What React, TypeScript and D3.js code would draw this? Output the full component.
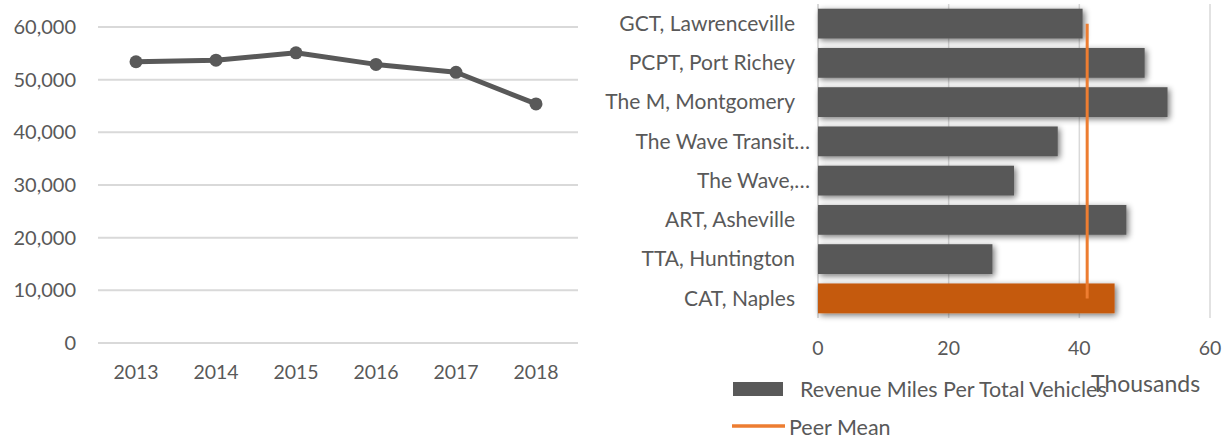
import React from "react";
import * as d3 from "d3";

const years = ["2013", "2014", "2015", "2016", "2017", "2018"];
const yearValues = [53400, 53700, 55100, 52900, 51400, 45400];
const leftTicks = [0, 10000, 20000, 30000, 40000, 50000, 60000];

const agencies = [
  "GCT, Lawrenceville",
  "PCPT, Port Richey",
  "The M, Montgomery",
  "The Wave Transit…",
  "The Wave,…",
  "ART, Asheville",
  "TTA, Huntington",
  "CAT, Naples",
];
const agencyValues = [40.5, 50.0, 53.5, 36.7, 30.0, 47.2, 26.7, 45.4];
const highlightAgency = "CAT, Naples";
const peerMean = 41.2;
const rightTicks = [0, 20, 40, 60];

const W = 1228;
const H = 437;
const FONT = "Lato, 'Open Sans', sans-serif";
const TXT = "#595959";
const GRID = "#D9D9D9";
const BAR = "#595959";
const HL = "#C55A11";
const MEAN = "#ED7D31";

export default function App() {
  // left line chart
  const xl = d3.scaleBand<string>().domain(years).range([96, 576]);
  const yl = d3.scaleLinear().domain([0, 60000]).range([343, 27]);
  const fmt = d3.format(",");
  const line = d3
    .line<number>()
    .x((_, i) => (xl(years[i]) as number) + xl.bandwidth() / 2)
    .y((d) => yl(d));

  // right bar chart
  const xr = d3.scaleLinear().domain([0, 60]).range([818, 1210]);
  const yr = d3.scaleBand<string>().domain(agencies).range([4, 318]).paddingInner(0.24).paddingOuter(0.12);
  const firstC = (yr(agencies[0]) as number) + yr.bandwidth() / 2;
  const lastC = (yr(agencies[agencies.length - 1]) as number) + yr.bandwidth() / 2;

  return (
    <svg
      width={W}
      height={H}
      style={{ position: "absolute", left: 0, top: 0, background: "#fff" }}
      fontFamily={FONT}
    >
      <defs>
        <filter id="shadow" x="-10%" y="-50%" width="130%" height="220%">
          <feGaussianBlur in="SourceAlpha" stdDeviation="3" />
          <feOffset dx="2" dy="2" result="ob" />
          <feComponentTransfer>
            <feFuncA type="linear" slope="0.55" />
          </feComponentTransfer>
          <feMerge>
            <feMergeNode />
            <feMergeNode in="SourceGraphic" />
          </feMerge>
        </filter>
      </defs>

      {/* Left chart */}
      {leftTicks.map((t) => (
        <g key={t}>
          <line x1={98} x2={578} y1={yl(t)} y2={yl(t)} stroke={GRID} strokeWidth={2} />
          <text x={76} y={yl(t)} dy="0.35em" textAnchor="end" fontSize={20} fill={TXT}>
            {fmt(t)}
          </text>
        </g>
      ))}
      {years.map((y) => (
        <text
          key={y}
          x={(xl(y) as number) + xl.bandwidth() / 2}
          y={372.5}
          dy="0.35em"
          textAnchor="middle"
          fontSize={19.5}
          fill={TXT}
        >
          {y}
        </text>
      ))}
      <path d={line(yearValues) || ""} fill="none" stroke={BAR} strokeWidth={5} strokeLinejoin="round" />
      {yearValues.map((v, i) => (
        <circle
          key={i}
          cx={(xl(years[i]) as number) + xl.bandwidth() / 2}
          cy={yl(v)}
          r={6.5}
          fill={BAR}
        />
      ))}

      {/* Right chart */}
      {rightTicks.map((t) => (
        <g key={t}>
          <line x1={xr(t)} x2={xr(t)} y1={4} y2={318} stroke={GRID} strokeWidth={t === 0 ? 2 : 1.5} />
          <text x={xr(t)} y={348} dy="0.35em" textAnchor="middle" fontSize={19.5} fill={TXT}>
            {t}
          </text>
        </g>
      ))}
      {agencies.map((a, i) => (
        <g key={a}>
          <rect
            x={xr(0)}
            y={yr(a)}
            width={xr(agencyValues[i]) - xr(0)}
            height={yr.bandwidth()}
            fill={a === highlightAgency ? HL : BAR}
            filter="url(#shadow)"
          />
          <text
            x={a.endsWith("…") ? 810 : 795}
            y={(yr(a) as number) + yr.bandwidth() / 2}
            dy="0.35em"
            textAnchor="end"
            fontSize={21}
            fill={TXT}
          >
            {a}
          </text>
        </g>
      ))}
      <line x1={xr(peerMean)} x2={xr(peerMean)} y1={firstC} y2={lastC} stroke={MEAN} strokeWidth={3} />

      {/* Legend */}
      <rect x={733} y={382} width={50} height={14} fill={BAR} />
      <text x={800} y={389} dy="0.35em" fontSize={21.5} fill={TXT}>
        Revenue Miles Per Total Vehicles
      </text>
      <text x={1091} y={384} dy="0.35em" fontSize={23} fill={TXT}>
        Thousands
      </text>
      <line x1={732} x2={785} y1={426} y2={426} stroke={MEAN} strokeWidth={3.5} />
      <text x={789} y={427} dy="0.35em" fontSize={21.5} fill={TXT}>
        Peer Mean
      </text>
    </svg>
  );
}
